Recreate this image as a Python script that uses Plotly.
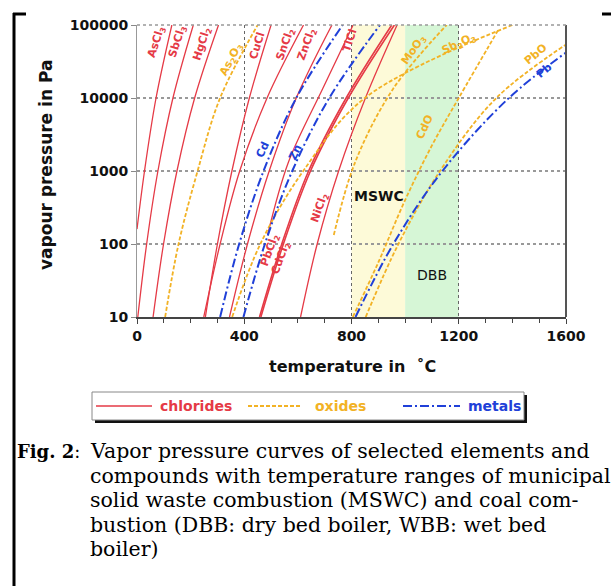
import plotly.graph_objects as go

# ---- vapour pressure curves: temperature (degC) and pressure (Pa) ----
ascl3_t = [0, 28, 71, 130]
ascl3_p = [160, 1000, 10000, 100000]
sbcl3_t = [3, 36, 78, 134, 210]
sbcl3_p = [10, 100, 1000, 10000, 100000]
hgcl2_t = [60, 99, 149, 215, 304]
hgcl2_p = [10, 100, 1000, 10000, 100000]
cucl_t = [255, 300, 354, 419, 500]
cucl_p = [10, 100, 1000, 10000, 100000]
sncl2_t = [249, 310, 383, 485, 621]
sncl2_p = [10, 100, 1000, 10000, 100000]
zncl2_t = [345, 412, 493, 594, 727]
zncl2_p = [10, 100, 1000, 10000, 100000]
tlcl_t = [487, 565, 692, 806]
tlcl_p = [133, 1330, 13300, 100000]
pbcl2_t = [457, 540, 640, 780, 950]
pbcl2_p = [10, 100, 1000, 10000, 100000]
cdcl2_t = [462, 546, 647, 788, 960]
cdcl2_p = [10, 100, 1000, 10000, 100000]
nicl2_t = [610, 672, 752, 852, 970]
nicl2_p = [10, 100, 1000, 10000, 100000]

as2o3_t = [105, 155, 226, 310, 450]
as2o3_p = [10, 100, 1000, 10000, 100000]
sb2o3_t = [355, 460, 620, 850, 1400]
sb2o3_p = [10, 100, 1000, 10000, 100000]
moo3_t = [734, 814, 955, 1155]
moo3_p = [133, 1330, 13300, 100000]
cdo_t = [805, 900, 1000, 1100, 1200, 1350]
cdo_p = [10, 56, 400, 2240, 10000, 89000]
pbo_t = [853, 975, 1130, 1340, 1600]
pbo_p = [10, 100, 1000, 10000, 54000]

cd_t = [310, 381, 472, 594, 767]
cd_p = [10, 100, 1000, 10000, 100000]
zn_t = [397, 477, 579, 717, 906]
zn_p = [10, 100, 1000, 10000, 100000]
pb_t = [815, 956, 1139, 1387, 1600]
pb_p = [10, 100, 1000, 10000, 42000]

RED = "#e53a46"
ORANGE = "#f2b225"
BLUE = "#2040d8"

chlorides = [
    (ascl3_t, ascl3_p, 1.3), (sbcl3_t, sbcl3_p, 1.3), (hgcl2_t, hgcl2_p, 1.3),
    (cucl_t, cucl_p, 1.3), (sncl2_t, sncl2_p, 1.3), (zncl2_t, zncl2_p, 1.3),
    (tlcl_t, tlcl_p, 1.3), (pbcl2_t, pbcl2_p, 1.6), (cdcl2_t, cdcl2_p, 1.6),
    (nicl2_t, nicl2_p, 1.3),
]
oxides = [(as2o3_t, as2o3_p), (sb2o3_t, sb2o3_p), (moo3_t, moo3_p),
          (cdo_t, cdo_p), (pbo_t, pbo_p)]
metals = [(cd_t, cd_p), (zn_t, zn_p), (pb_t, pb_p)]

fig = go.Figure()

for t, p, w in chlorides:
    fig.add_trace(go.Scatter(x=t, y=p, mode="lines", line=dict(color=RED, width=w, shape="spline"),
                             showlegend=False, hoverinfo="skip"))
for t, p in oxides:
    fig.add_trace(go.Scatter(x=t, y=p, mode="lines",
                             line=dict(color=ORANGE, width=1.8, dash="4px,2px", shape="spline"),
                             showlegend=False, hoverinfo="skip"))
for t, p in metals:
    fig.add_trace(go.Scatter(x=t, y=p, mode="lines",
                             line=dict(color=BLUE, width=2, dash="9px,3px,2px,3px", shape="spline"),
                             showlegend=False, hoverinfo="skip"))

# combustion temperature ranges
fig.add_shape(type="rect", xref="x", yref="paper", x0=800, x1=1000, y0=0, y1=1,
              fillcolor="#fdfad8", line_width=0, layer="below")
fig.add_shape(type="rect", xref="x", yref="paper", x0=1000, x1=1200, y0=0, y1=1,
              fillcolor="#d6f6d6", line_width=0, layer="below")

# pixel helpers for page-level decoration
L, R, T, B = 137, 566, 25, 317
def px(x):
    return (x - L) / (R - L)
def py(y):
    return (B - y) / (B - T)

def note(text, x, y, xref="paper", yref="paper", **kw):
    fig.add_annotation(x=x, y=y, xref=xref, yref=yref, text=text, showarrow=False,
                       xanchor=kw.pop("xanchor", "center"), yanchor="middle", **kw)

# frame: right edge solid, top dotted
fig.add_shape(type="line", xref="paper", yref="paper", x0=1, x1=1, y0=0, y1=1,
              line=dict(color="#555555", width=2))
fig.add_shape(type="line", xref="paper", yref="paper", x0=0, x1=1, y0=1, y1=1,
              line=dict(color="#999999", width=1.5, dash="dot"))

# curve labels
labels = [
    ("AsCl<sub>3</sub>", 72, 4.77, RED, -72), ("SbCl<sub>3</sub>", 150, 4.77, RED, -72),
    ("HgCl<sub>2</sub>", 243, 4.74, RED, -72), ("As<sub>2</sub>O<sub>3</sub>", 351, 4.52, ORANGE, -62),
    ("CuCl", 448, 4.72, RED, -72), ("SnCl<sub>2</sub>", 552, 4.73, RED, -70),
    ("ZnCl<sub>2</sub>", 634, 4.74, RED, -70), ("TlCl", 793, 4.79, RED, -72),
    ("Cd", 470, 3.29, BLUE, -65), ("Zn", 589, 3.26, BLUE, -65),
    ("NiCl<sub>2</sub>", 682, 2.49, RED, -70), ("PbCl<sub>2</sub>", 496, 1.92, RED, -70),
    ("CdCl<sub>2</sub>", 537, 1.81, RED, -70), ("MoO<sub>3</sub>", 1032, 4.66, ORANGE, -55),
    ("Sb<sub>2</sub>O<sub>3</sub>", 1200, 4.74, ORANGE, -25), ("CdO", 1072, 3.60, ORANGE, -65),
    ("PbO", 1486, 4.60, ORANGE, -40), ("Pb", 1519, 4.38, BLUE, -40),
]
for txt, x, ly, col, ang in labels:
    note(txt, x, ly, xref="x", yref="y", textangle=ang,
         font=dict(family="DejaVu Sans", size=11, color=col, weight="bold"))

note("MSWC", 800, 2.66, xref="x", yref="y", xanchor="left",
     font=dict(family="DejaVu Sans", size=14, color="#111111", weight="bold"))
note("DBB", 1102, 1.58, xref="x", yref="y",
     font=dict(family="DejaVu Sans", size=14, color="#111111"))

# axis titles
note("vapour pressure in Pa", px(46), py(165), textangle=-90,
     font=dict(family="DejaVu Sans", size=17, color="#111111", weight="bold"))
note("temperature in  ˚C", px(352), py(366),
     font=dict(family="DejaVu Sans", size=16, color="#111111", weight="bold"))

# legend box with drop shadow
fig.add_shape(type="rect", xref="paper", yref="paper", x0=px(95), x1=px(527), y0=py(423), y1=py(395),
              fillcolor="#111111", line_width=0)
fig.add_shape(type="rect", xref="paper", yref="paper", x0=px(92), x1=px(524), y0=py(420), y1=py(392),
              fillcolor="white", line=dict(color="#888888", width=1))
fig.add_shape(type="line", xref="paper", yref="paper", x0=px(96), x1=px(152), y0=py(406), y1=py(406),
              line=dict(color=RED, width=1.5))
fig.add_shape(type="line", xref="paper", yref="paper", x0=px(248), x1=px(302), y0=py(406), y1=py(406),
              line=dict(color=ORANGE, width=1.8, dash="4px,2px"))
fig.add_shape(type="line", xref="paper", yref="paper", x0=px(403), x1=px(460), y0=py(406), y1=py(406),
              line=dict(color=BLUE, width=2, dash="9px,3px,2px,3px"))
for txt, x, col in [("chlorides", 158, RED), ("oxides", 313, ORANGE), ("metals", 466, BLUE)]:
    note(txt, px(x), py(406), xanchor="left",
         font=dict(family="DejaVu Sans", size=14, color=col, weight="bold"))

# page bracket
fig.add_shape(type="line", xref="paper", yref="paper", x0=px(14), x1=px(14), y0=py(600), y1=py(13),
              line=dict(color="black", width=3))
fig.add_shape(type="line", xref="paper", yref="paper", x0=px(13), x1=px(26), y0=py(14), y1=py(14),
              line=dict(color="black", width=3))
fig.add_shape(type="line", xref="paper", yref="paper", x0=px(602), x1=px(611), y0=py(14), y1=py(14),
              line=dict(color="black", width=3))

# caption
SERIF = "DejaVu Serif"
note("<b>Fig. 2</b>:", px(15), py(451), xanchor="left",
     font=dict(family=SERIF, size=18, color="black"))
caption = [
    "Vapor pressure curves of selected elements and",
    "compounds with temperature ranges of municipal",
    "solid waste combustion (MSWC) and coal com-",
    "bustion (DBB: dry bed boiler, WBB: wet bed",
    "boiler)",
]
for i, line in enumerate(caption):
    note(line, px(88), py(451 + 24.6 * i), xanchor="left",
         font=dict(family=SERIF, size=20.5, color="black"))

fig.update_xaxes(range=[0, 1600], tickvals=[0, 400, 800, 1200, 1600], ticks="outside", ticklen=5,
                 tickcolor="#444444", showline=True, linecolor="#444444", linewidth=2,
                 showgrid=True, gridcolor="#666666", griddash="dot", gridwidth=1,
                 minor=dict(dtick=100, ticks="outside", ticklen=4, tickcolor="#444444", showgrid=False),
                 tickfont=dict(family="DejaVu Sans", size=14, color="#111111", weight="bold"),
                 zeroline=False)
fig.update_yaxes(type="log", range=[1, 5], tickvals=[10, 100, 1000, 10000, 100000],
                 ticktext=["10", "100", "1000", "10000", "100000"], ticks="outside", ticklen=5,
                 tickcolor="#888888", showline=True, linecolor="#999999", linewidth=1,
                 showgrid=True, gridcolor="#999999", griddash="dot", gridwidth=1.5,
                 tickfont=dict(family="DejaVu Sans", size=14, color="#111111", weight="bold"),
                 zeroline=False)

fig.update_layout(width=612, height=586, margin=dict(l=L, r=612 - R, t=T, b=586 - B),
                  plot_bgcolor="white", paper_bgcolor="white", showlegend=False)

fig.write_html("out.html")
